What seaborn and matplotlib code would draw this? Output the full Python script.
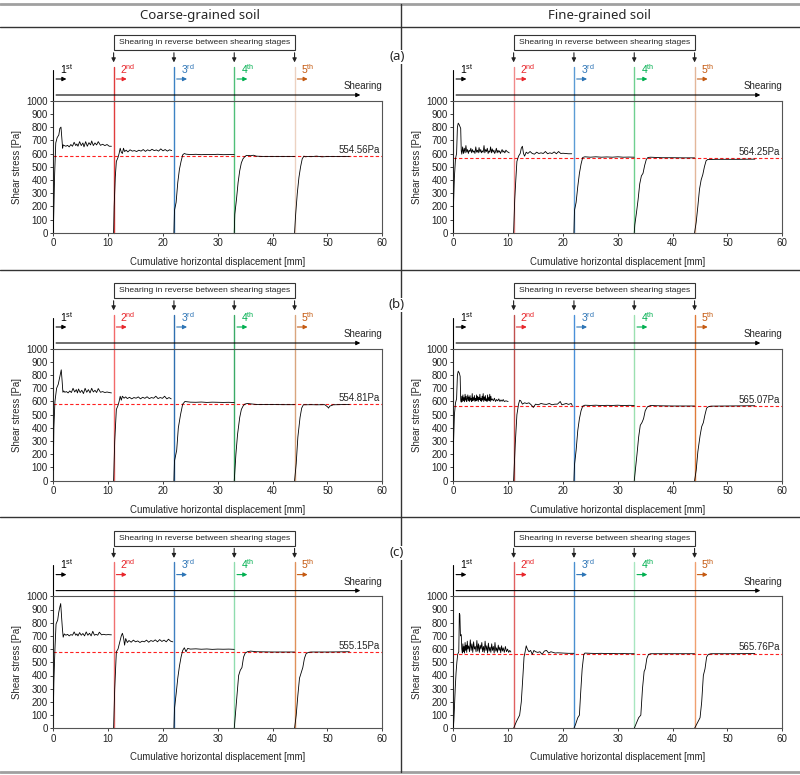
import numpy as np
import pandas as pd
import matplotlib
matplotlib.use("Agg")
import matplotlib.pyplot as plt
import seaborn as sns
from matplotlib.patches import Rectangle
from matplotlib.lines import Line2D

sns.set_style("ticks")
plt.rcParams['font.family'] = ['Liberation Sans', 'DejaVu Sans']
plt.rcParams['mathtext.fontset'] = 'custom'
plt.rcParams['mathtext.rm'] = 'Liberation Sans'

# ---------------- data ----------------
col_titles = ["Coarse-grained soil", "Fine-grained soil"]
row_labels = ["(a)", "(b)", "(c)"]
stage_starts = [0, 11, 22, 33, 44]
stage_names = ["1$^{\\rm st}$", "2$^{\\rm nd}$", "3$^{\\rm rd}$", "4$^{\\rm th}$", "5$^{\\rm th}$"]
stage_text_colors = ["black", "#e8262b", "#2e75b6", "#00b050", "#c55a11"]
x_ticks = [0, 10, 20, 30, 40, 50, 60]
y_ticks = [0, 100, 200, 300, 400, 500, 600, 700, 800, 900, 1000]
residual_labels = [["554.56Pa", "564.25Pa"], ["554.81Pa", "565.07Pa"], ["555.15Pa", "565.76Pa"]]
residual_levels = [[578, 566], [578, 566], [578, 566]]
stage_line_colors = [
    [["#e03c3c", "#3c82c4", "#4fbf78", "#ecd2c2"], ["#f08a8a", "#5b9bd5", "#6fd08f", "#e3b79a"]],
    [["#f26a6a", "#2f6fb0", "#3aaa66", "#d9a57e"], ["#c0504d", "#4a90d9", "#9be0b0", "#e07b39"]],
    [["#f07070", "#3f7fc0", "#8fdcae", "#e0915a"], ["#e06060", "#4a8fd0", "#a8e6c0", "#f0a070"]],
]

# Coarse (a)
ca_x = [
    [0, 0.1, 0.25, 0.45, 0.7, 1.0, 1.2, 1.4, 1.55, 1.7, 1.8, 2.0, 2.3, 2.6, 2.9, 3.2, 3.5, 3.8, 4.1, 4.3, 4.5, 4.8, 5.1, 5.4, 5.6, 5.9, 6.2, 6.5, 6.8, 7.0, 7.3, 7.6, 7.9, 8.2, 8.6, 9.0, 9.4, 9.8, 10.2, 10.6],
    [11, 11.1, 11.3, 11.5, 11.8, 12.0, 12.2, 12.4, 12.6, 12.8, 13.0, 13.3, 13.6, 14.0, 14.4, 14.8, 15.2, 15.6, 16.0, 16.4, 16.8, 17.2, 17.6, 18.0, 18.4, 18.8, 19.2, 19.6, 20.0, 20.4, 20.8, 21.2, 21.6],
    [22, 22.1, 22.4, 22.7, 23.0, 23.3, 23.6, 23.9, 24.2, 25, 26, 27, 28, 29, 30, 31, 32, 33],
    [33, 33.1, 33.4, 33.7, 34.0, 34.3, 34.6, 34.9, 35.2, 35.6, 36.0, 36.5, 37, 38, 40, 42, 44],
    [44, 44.2, 44.5, 44.8, 45.1, 45.4, 45.7, 46.0, 46.5, 47, 48, 49, 50, 51, 52, 53, 54],
]
ca_y = [
    [0, 180, 450, 680, 720, 740, 790, 800, 720, 640, 665, 660, 655, 662, 650, 668, 655, 685, 660, 672, 655, 690, 660, 680, 650, 690, 655, 682, 665, 695, 660, 680, 665, 690, 662, 670, 660, 668, 655, 655],
    [0, 200, 420, 540, 570, 600, 640, 610, 600, 640, 615, 625, 612, 628, 618, 622, 615, 625, 618, 630, 616, 628, 620, 632, 622, 627, 618, 635, 620, 630, 618, 628, 622],
    [0, 170, 230, 380, 480, 540, 590, 600, 595, 592, 594, 591, 593, 592, 594, 591, 592, 592],
    [0, 140, 250, 380, 470, 530, 560, 575, 585, 585, 583, 587, 580, 578, 578, 578, 578],
    [0, 140, 300, 420, 500, 560, 580, 575, 578, 576, 580, 575, 577, 578, 577, 578, 578],
]

# Fine (a)
fa_x = [
    [0, 0.05, 0.2, 0.4, 0.6, 0.75, 0.9, 1.05, 1.2, 1.35, 1.45, 1.55, 1.7, 1.85, 2.0, 2.15, 2.3, 2.45, 2.6, 2.75, 2.9, 3.05, 3.2, 3.35, 3.5, 3.65, 3.8, 3.95, 4.1, 4.25, 4.4, 4.55, 4.7, 4.85, 5.0, 5.15, 5.3, 5.45, 5.6, 5.75, 5.9, 6.05, 6.2, 6.35, 6.5, 6.65, 6.8, 6.95, 7.1, 7.25, 7.4, 7.55, 7.7, 7.85, 8.0, 8.15, 8.3, 8.45, 8.6, 8.75, 8.9, 9.05, 9.2, 9.4, 9.6, 9.8, 10.0, 10.2],
    [11, 11.2, 11.4, 11.6, 11.9, 12.2, 12.4, 12.6, 12.8, 13, 13.3, 13.6, 14, 14.4, 14.8, 15.2, 15.6, 16, 16.4, 16.8, 17.2, 17.6, 18, 18.4, 18.8, 19.2, 19.6, 20, 20.5, 21, 21.6],
    [22, 22.1, 22.4, 22.7, 23, 23.3, 23.6, 24, 25, 26, 27, 28, 29, 30, 31, 32, 33],
    [33, 33.1, 33.4, 33.7, 34, 34.3, 34.6, 34.9, 35.2, 35.5, 36, 37, 38, 40, 42, 44],
    [44, 44.3, 44.6, 44.9, 45.2, 45.5, 45.8, 46.1, 46.4, 47, 48, 50, 52, 54, 55],
]
fa_y = [
    [0, 230, 420, 560, 600, 800, 830, 820, 805, 790, 620, 595, 650, 600, 640, 605, 660, 610, 630, 600, 625, 615, 640, 605, 630, 610, 620, 600, 650, 610, 625, 605, 645, 610, 630, 605, 620, 610, 660, 605, 630, 615, 640, 600, 620, 610, 650, 605, 635, 610, 625, 600, 615, 640, 605, 625, 610, 620, 600, 615, 630, 610, 620, 605, 625, 615, 610, 605],
    [0, 250, 400, 540, 580, 600, 640, 655, 600, 580, 610, 600, 615, 600, 595, 610, 600, 605, 600, 615, 598, 605, 600, 612, 598, 615, 600, 602, 600, 598, 598],
    [0, 170, 230, 350, 450, 520, 570, 575, 572, 575, 572, 574, 572, 575, 572, 573, 572],
    [0, 60, 150, 250, 370, 430, 450, 510, 555, 570, 572, 570, 568, 568, 567, 567],
    [0, 80, 200, 330, 400, 440, 500, 545, 555, 555, 556, 556, 556, 557, 557],
]

# Coarse (b)
cb_x = [
    [0, 0.1, 0.3, 0.6, 0.9, 1.1, 1.3, 1.45, 1.6, 1.75, 1.9, 2.1, 2.4, 2.7, 3.0, 3.3, 3.6, 3.9, 4.2, 4.4, 4.6, 4.9, 5.2, 5.5, 5.8, 6.1, 6.4, 6.7, 7.0, 7.3, 7.6, 7.9, 8.2, 8.6, 9.0, 9.4, 9.8, 10.2, 10.6],
    [11, 11.2, 11.5, 11.8, 12.0, 12.2, 12.4, 12.6, 12.9, 13.2, 13.5, 13.9, 14.3, 14.7, 15.1, 15.5, 15.9, 16.3, 16.7, 17.1, 17.5, 17.9, 18.3, 18.7, 19.1, 19.5, 19.9, 20.3, 20.7, 21.1, 21.5],
    [22, 22.1, 22.5, 22.8, 23.2, 23.6, 24, 25, 26, 27, 28, 29, 30, 31, 32, 33],
    [33, 33.3, 33.6, 34, 34.3, 34.6, 34.9, 35.4, 36, 37, 38, 40, 42, 44],
    [44, 44.3, 44.6, 45, 45.3, 45.6, 46, 47, 48, 49.5, 50, 50.2, 50.4, 50.8, 51, 52, 54],
]
cb_y = [
    [80, 400, 600, 700, 730, 770, 810, 840, 760, 670, 680, 670, 675, 665, 680, 668, 700, 672, 690, 665, 695, 668, 685, 660, 700, 670, 690, 665, 700, 672, 685, 668, 698, 670, 675, 668, 672, 668, 665],
    [0, 300, 540, 570, 600, 640, 610, 640, 625, 635, 622, 632, 620, 630, 625, 635, 620, 632, 624, 636, 622, 630, 625, 640, 622, 630, 624, 640, 620, 630, 620],
    [0, 150, 230, 400, 500, 580, 600, 595, 594, 596, 593, 595, 594, 593, 594, 592],
    [0, 200, 350, 480, 540, 565, 580, 585, 582, 578, 577, 577, 576, 576],
    [0, 130, 330, 480, 550, 575, 575, 576, 575, 576, 560, 550, 565, 570, 575, 576, 578],
]

# Fine (b)
fb_x = [
    [0, 0.05, 0.2, 0.4, 0.6, 0.75, 0.9, 1.1, 1.25, 1.35, 1.45, 1.55, 1.65, 1.75, 1.85, 1.95, 2.05, 2.15, 2.25, 2.35, 2.45, 2.55, 2.65, 2.75, 2.85, 2.95, 3.05, 3.15, 3.25, 3.35, 3.45, 3.55, 3.65, 3.75, 3.85, 3.95, 4.05, 4.15, 4.25, 4.35, 4.45, 4.55, 4.65, 4.75, 4.85, 4.95, 5.05, 5.15, 5.25, 5.35, 5.45, 5.55, 5.65, 5.75, 5.85, 5.95, 6.05, 6.15, 6.25, 6.35, 6.45, 6.55, 6.65, 6.75, 6.85, 6.95, 7.1, 7.3, 7.5, 7.7, 7.9, 8.1, 8.3, 8.5, 8.7, 8.9, 9.1, 9.3, 9.6, 10.0],
    [11, 11.3, 11.6, 11.9, 12.1, 12.3, 12.6, 13, 13.4, 13.8, 14.2, 14.6, 15, 15.5, 16, 16.5, 17, 17.5, 18, 18.5, 19, 19.5, 19.8, 20.2, 20.6, 21, 21.5, 21.7],
    [22, 22.1, 22.4, 22.7, 23, 23.3, 23.6, 24, 25, 26, 27, 28, 29, 30, 31, 32, 33],
    [33, 33.2, 33.5, 33.8, 34.1, 34.4, 34.7, 35, 35.4, 36, 37, 40, 44],
    [44, 44.3, 44.6, 45, 45.3, 45.6, 45.9, 46.2, 46.5, 47, 50, 55],
]
fb_y = [
    [0, 300, 500, 590, 620, 800, 830, 815, 790, 610, 595, 640, 600, 650, 605, 630, 598, 655, 610, 640, 600, 620, 650, 605, 635, 600, 645, 610, 625, 600, 660, 605, 630, 610, 645, 600, 625, 605, 650, 610, 640, 600, 630, 615, 655, 605, 625, 600, 640, 610, 660, 600, 635, 610, 645, 605, 620, 600, 650, 610, 630, 605, 655, 600, 640, 610, 620, 605, 625, 600, 615, 605, 620, 600, 612, 602, 615, 600, 605, 600],
    [0, 280, 500, 580, 610, 605, 580, 590, 585, 590, 575, 555, 580, 575, 585, 580, 578, 585, 575, 580, 580, 600, 575, 580, 585, 578, 585, 570],
    [0, 120, 230, 380, 470, 530, 565, 572, 570, 572, 569, 571, 570, 572, 569, 571, 570],
    [0, 80, 200, 330, 420, 440, 470, 530, 560, 570, 568, 566, 566],
    [0, 80, 220, 340, 410, 440, 500, 550, 560, 565, 566, 568],
]

# Coarse (c)
cc_x = [
    [0, 0.1, 0.3, 0.5, 0.8, 1.0, 1.2, 1.35, 1.5, 1.65, 1.8, 2.0, 2.3, 2.6, 2.9, 3.2, 3.5, 3.8, 4.1, 4.3, 4.5, 4.8, 5.1, 5.4, 5.7, 6.0, 6.3, 6.6, 6.9, 7.2, 7.5, 7.8, 8.1, 8.4, 8.8, 9.2, 9.6, 10.0, 10.6],
    [11, 11.2, 11.5, 11.8, 12.1, 12.4, 12.6, 12.8, 13.0, 13.2, 13.5, 13.8, 14.2, 14.6, 15.0, 15.4, 15.8, 16.2, 16.6, 17.0, 17.4, 17.8, 18.2, 18.6, 19.0, 19.4, 19.8, 20.2, 20.6, 21.0, 21.4, 21.8],
    [22, 22.1, 22.4, 22.7, 23.0, 23.3, 23.6, 23.9, 24.2, 24.5, 25, 26, 27, 28, 29, 30, 31, 32, 33],
    [33, 33.2, 33.5, 33.8, 34.1, 34.4, 34.7, 35, 35.4, 36, 37, 40, 44],
    [44, 44.3, 44.6, 44.9, 45.2, 45.5, 45.8, 46.1, 46.5, 47, 50, 54],
]
cc_y = [
    [100, 350, 600, 790, 820, 880, 920, 945, 850, 760, 690, 715, 705, 712, 700, 710, 705, 730, 705, 715, 700, 725, 705, 718, 700, 730, 705, 720, 700, 735, 705, 712, 705, 728, 708, 712, 708, 710, 708],
    [0, 300, 580, 600, 650, 700, 720, 690, 630, 680, 650, 665, 652, 668, 655, 662, 650, 660, 655, 668, 652, 665, 658, 670, 655, 672, 658, 668, 655, 675, 660, 655],
    [0, 150, 260, 380, 470, 540, 590, 610, 580, 605, 600, 602, 599, 601, 598, 600, 599, 600, 598],
    [0, 100, 250, 400, 440, 460, 540, 570, 580, 585, 580, 578, 578],
    [0, 100, 250, 380, 420, 460, 530, 565, 575, 578, 578, 580],
]

# Fine (c)
fc_x = [
    [0, 0.1, 0.2, 0.35, 0.5, 0.65, 0.8, 1.0, 1.1, 1.2, 1.3, 1.45, 1.55, 1.65, 1.75, 1.85, 1.95, 2.05, 2.15, 2.25, 2.35, 2.45, 2.55, 2.65, 2.8, 2.95, 3.1, 3.25, 3.4, 3.55, 3.7, 3.85, 4.0, 4.15, 4.3, 4.45, 4.6, 4.75, 4.9, 5.05, 5.2, 5.35, 5.5, 5.65, 5.8, 5.95, 6.1, 6.25, 6.4, 6.55, 6.7, 6.85, 7.0, 7.15, 7.3, 7.45, 7.6, 7.75, 7.9, 8.05, 8.2, 8.35, 8.5, 8.65, 8.8, 8.95, 9.1, 9.3, 9.5, 9.7, 9.9, 10.1, 10.3, 10.5],
    [11, 11.5, 12.1, 12.4, 12.7, 12.9, 13.1, 13.3, 13.5, 13.8, 14.1, 14.4, 14.7, 15, 15.4, 15.8, 16.2, 16.6, 17, 17.4, 17.8, 18.2, 18.6, 19, 20, 21, 22],
    [22, 22.3, 22.7, 23, 23.2, 23.5, 23.8, 24, 25, 26, 27, 28, 29, 30, 31, 32, 33],
    [33, 33.4, 33.8, 34.2, 34.5, 34.8, 35, 35.3, 35.6, 36, 40, 44],
    [44, 44.5, 45, 45.3, 45.6, 45.9, 46.2, 46.5, 47, 50, 55],
]
fc_y = [
    [0, 60, 150, 300, 420, 500, 560, 580, 870, 860, 700, 710, 600, 570, 640, 580, 620, 570, 650, 590, 630, 575, 660, 600, 625, 580, 670, 590, 640, 575, 655, 600, 620, 580, 665, 585, 640, 575, 630, 600, 650, 580, 620, 575, 660, 590, 625, 570, 645, 585, 615, 575, 640, 590, 620, 570, 650, 585, 610, 575, 630, 590, 615, 572, 625, 585, 610, 575, 620, 580, 600, 575, 590, 578],
    [0, 50, 100, 200, 400, 540, 580, 625, 600, 580, 590, 560, 590, 580, 575, 580, 560, 585, 590, 570, 580, 575, 570, 572, 570, 568, 568],
    [0, 30, 80, 100, 250, 450, 560, 570, 568, 567, 568, 566, 567, 565, 566, 565, 565],
    [0, 40, 80, 100, 300, 430, 450, 530, 560, 565, 565, 565],
    [0, 40, 80, 200, 400, 450, 540, 560, 565, 565, 566],
]

panel_data = [[(ca_x, ca_y), (fa_x, fa_y)],
              [(cb_x, cb_y), (fb_x, fb_y)],
              [(cc_x, cc_y), (fc_x, fc_y)]]

# ---------------- layout (pixels) ----------------
W, H = 800, 775
fig = plt.figure(figsize=(W / 100, H / 100), dpi=100)
fig.patch.set_facecolor("white")


def fx(px):
    return px / W


def fy(py):
    return 1 - py / H


col_left = [53.3, 453.3]
ax_w = 329
row_top = [100.7, 348.7, 596.3]
ax_h = 132

# frame lines
fig.add_artist(Line2D([0, 1], [fy(4), fy(4)], color="#a0a0a0", lw=2))
fig.add_artist(Line2D([0, 1], [fy(27), fy(27)], color="#333333", lw=1))
fig.add_artist(Line2D([0, 1], [fy(270), fy(270)], color="#333333", lw=1))
fig.add_artist(Line2D([0, 1], [fy(517), fy(517)], color="#333333", lw=1))
fig.add_artist(Line2D([0, 1], [fy(772), fy(772)], color="#a0a0a0", lw=2))
fig.add_artist(Line2D([fx(401), fx(401)], [fy(4), fy(772)], color="#333333", lw=1))

for c, t in enumerate(col_titles):
    fig.text(fx(200 + 400 * c), fy(16), t, ha="center", va="center",
             fontsize=9.5, family=["Noto Sans", "DejaVu Sans"])

U = 1000 / ax_h  # data units per pixel (y)

for r in range(3):
    fig.text(fx(397), fy(57 + 248 * r), row_labels[r], ha="center", va="center",
             fontsize=9.5, family=["Noto Sans", "DejaVu Sans"],
             bbox=dict(facecolor="white", edgecolor="none", pad=0.5))
    for c in range(2):
        ax = fig.add_axes([fx(col_left[c]), fy(row_top[r] + ax_h), ax_w / W, ax_h / H])
        xs, ys = panel_data[r][c]
        rows = []
        for s, (sx, sy) in enumerate(zip(xs, ys)):
            for k, (a, b) in enumerate(zip(sx, sy)):
                rows.append((a, b, s, k))
        df = pd.DataFrame(rows, columns=["x", "y", "stage", "order"])

        # stage boundary lines
        for i, sx0 in enumerate(stage_starts[1:]):
            ax.plot([sx0, sx0], [0, 34 * U + 1000], color=stage_line_colors[r][c][i],
                    lw=1.0, clip_on=False, zorder=1)
        ax.plot([0, 0], [1000, 1000 + 31 * U], color="black", lw=0.8, clip_on=False)

        # residual line
        lev = residual_levels[r][c]
        ax.axhline(lev, color="#ff2020", ls=(0, (3, 2)), lw=0.8, zorder=2)
        ax.text(59.5, lev + 48, residual_labels[r][c], ha="right", va="center", fontsize=7)

        sns.lineplot(data=df, x="x", y="y", units="stage", estimator=None, sort=False,
                     color="black", lw=0.6, ax=ax, zorder=3)

        ax.set_xlim(0, 60)
        ax.set_ylim(0, 1000)
        ax.set_xticks(x_ticks)
        ax.set_yticks(y_ticks)
        ax.tick_params(labelsize=7, length=2, width=0.6, pad=2, colors="#222222")
        ax.set_xlabel("Cumulative horizontal displacement [mm]", fontsize=6.9, labelpad=6)
        ax.set_ylabel("Shear stress [Pa]", fontsize=6.9, labelpad=3)
        for sp in ax.spines.values():
            sp.set_color("#555555")
            sp.set_linewidth(0.8)
        ax.spines["left"].set_color("#222222")

        # Shearing arrow
        ax.annotate("", xy=(56.5, 1000 + 5.7 * U), xytext=(0, 1000 + 5.7 * U),
                    arrowprops=dict(arrowstyle="-|>", color="black", lw=0.8, mutation_scale=6),
                    annotation_clip=False)
        ax.text(56.5, 1000 + 14.7 * U, "Shearing", ha="center", va="center", fontsize=7,
                clip_on=False)

        # stage arrows + labels
        for i, sx0 in enumerate(stage_starts):
            ax.annotate("", xy=(sx0 + 2.9, 1000 + 21.7 * U), xytext=(sx0, 1000 + 21.7 * U),
                        arrowprops=dict(arrowstyle="-|>", color=stage_text_colors[i], lw=0.8,
                                        mutation_scale=6),
                        annotation_clip=False)
            ax.text(sx0 + 1.2, 1000 + 31.7 * U, stage_names[i], ha="left", va="center",
                    fontsize=7.5, color=stage_text_colors[i], clip_on=False)

        # box with reverse shearing note
        box_y0 = 1000 + 50.7 * U
        box_y1 = 1000 + 65.7 * U
        ax.add_patch(Rectangle((11, box_y0), 33, box_y1 - box_y0, facecolor="white",
                               edgecolor="#333333", lw=0.8, clip_on=False))
        ax.text(27.5, (box_y0 + box_y1) / 2, "Shearing in reverse between shearing stages",
                ha="center", va="center", fontsize=6.1, clip_on=False)
        for sx0 in stage_starts[1:]:
            ax.annotate("", xy=(sx0, 1000 + 35.5 * U), xytext=(sx0, box_y0),
                        arrowprops=dict(arrowstyle="-|>", color="#222222", lw=0.8,
                                        mutation_scale=6),
                        annotation_clip=False)

fig.savefig("out.png", dpi=100, facecolor="white")
